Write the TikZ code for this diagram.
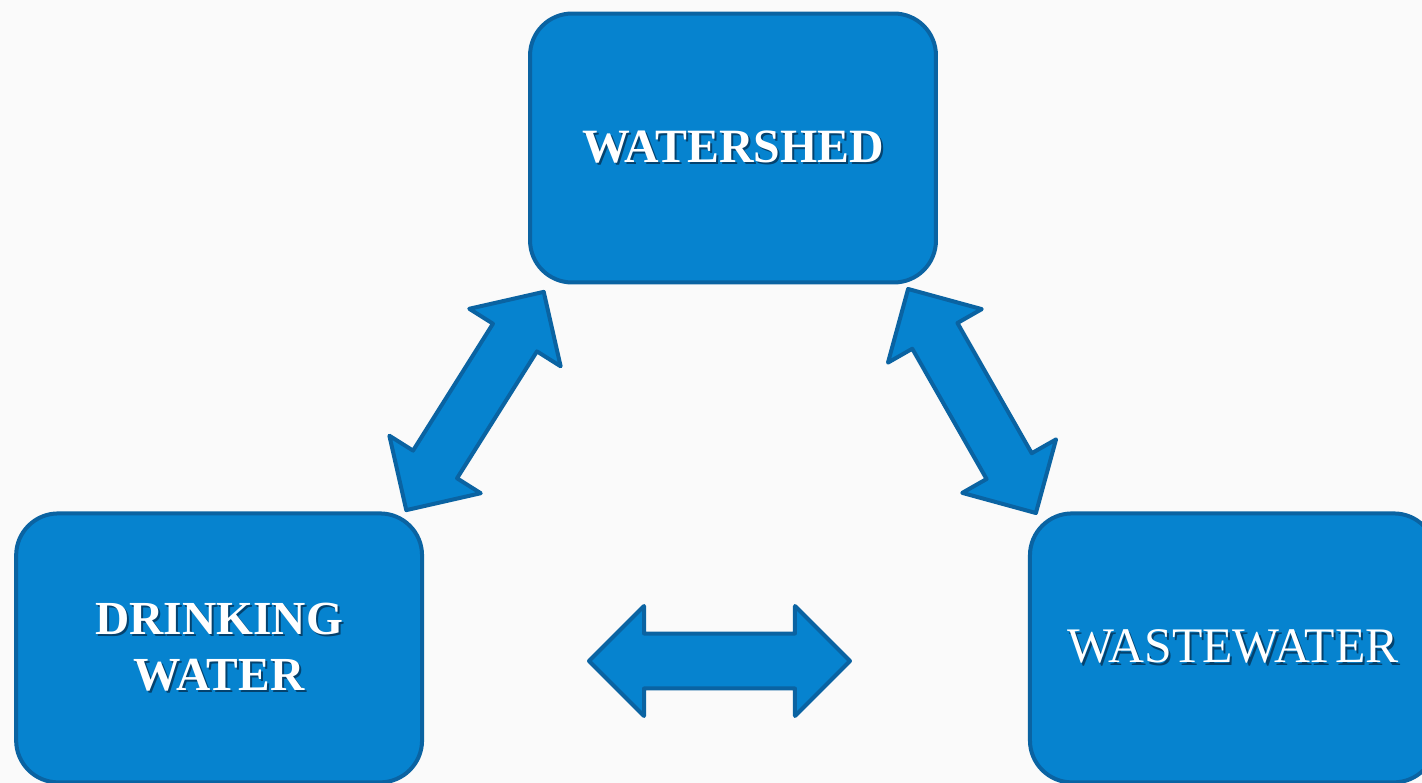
\documentclass[tikz,border=0pt]{standalone}
\usepackage{fontspec}
\setmainfont{Liberation Serif}
\usetikzlibrary{shapes.arrows,positioning}
\definecolor{wblue}{RGB}{6,131,207}
\definecolor{wedge}{RGB}{10,99,162}
\definecolor{wshade}{RGB}{4,66,110}
\definecolor{wback}{RGB}{250,250,250}
\newcommand{\shtext}[1]{\leavevmode\rlap{\kern1.2pt\raisebox{-1.2pt}{\color{wshade}#1}}#1}

\begin{document}
\begin{tikzpicture}[
		x=0.02cm, y=-0.02cm,
		box/.style={draw=wedge, fill=wblue, line width=0.08cm, rounded corners=0.84cm, minimum width=8.12cm, minimum height=5.38cm, text=white, align=center, inner sep=0pt},
		flow/.style={double arrow, draw=wedge, fill=wblue, line width=0.08cm, line join=round, inner xsep=0pt, inner ysep=0.48cm, double arrow head extend=0.56cm, minimum height=5.16cm}
	]
		\useasboundingbox[fill=wback] (0,0) rectangle (1422,783);

		\node[box, font=\fontsize{27.2}{32}\selectfont\bfseries]
			(shed) at (733,148)
			{\shtext{WATERSHED}};
		\node[box, font=\fontsize{27}{32}\selectfont\bfseries, below left=4.54cm and 2.08cm of shed]
			(drink)
			{\shtext{DRINKING}\\\shtext{WATER}};
		\node[box, font=\fontsize{28.3}{32}\selectfont, below right=4.54cm and 1.8cm of shed]
			(waste)
			{\shtext{WASTEWATER}};

		\node[flow, rotate=57.8] (dw) at (475,401) {};
		\node[flow, rotate=-60.3] (ww) at (972,401) {};
		\node[flow, minimum height=5.22cm, inner ysep=0.51cm, double arrow head extend=0.55cm]
			(dx) at (719.5,661) {};
	\end{tikzpicture}
\end{document}
